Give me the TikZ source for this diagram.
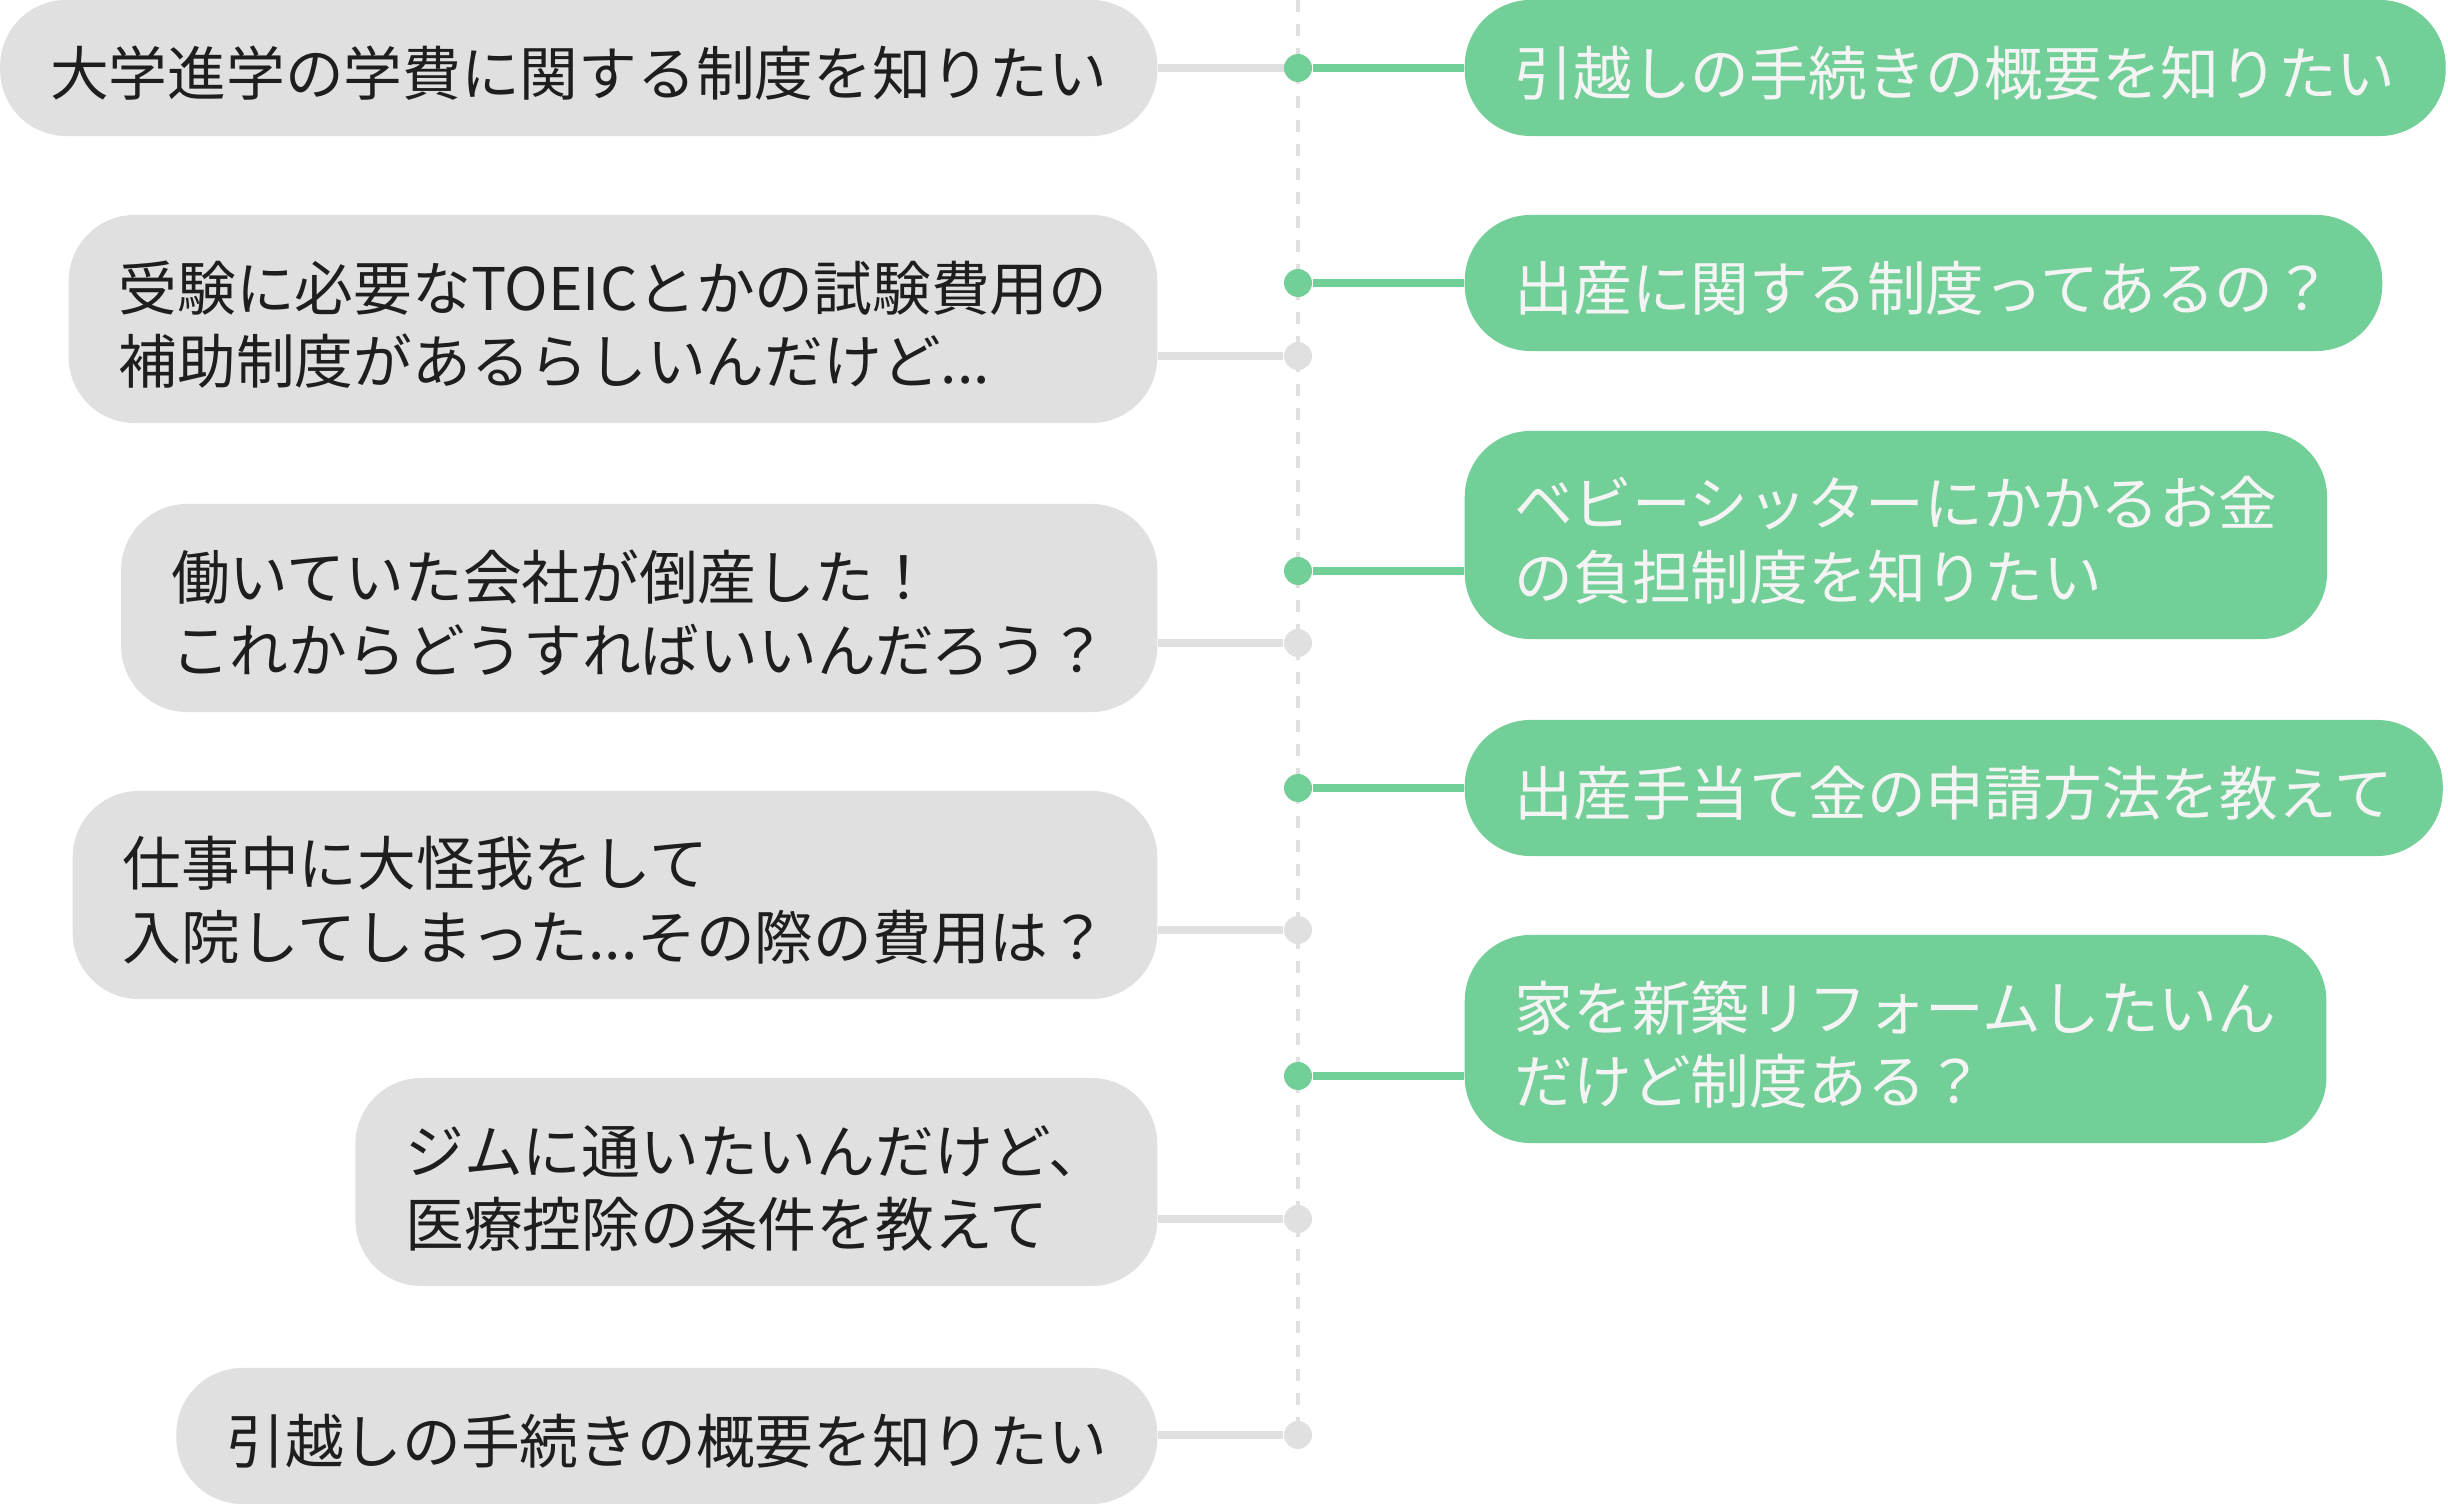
\documentclass[tikz,border=0pt]{standalone}
\usepackage{fontspec}
\setmainfont{Noto Sans CJK JP}
\definecolor{askgray}{HTML}{E0E0E0}
\definecolor{answergreen}{HTML}{72CF98}
\definecolor{asktext}{HTML}{1E1E1E}
\definecolor{answertext}{HTML}{F4F4F4}
\newcommand{\lift}{\rule{0pt}{0.6cm}}
\tikzset{
  bubble/.style={rounded corners=0.66cm,inner xsep=0.5cm,inner ysep=0pt,align=left,
    font=\fontsize{16.7}{20.8}\selectfont},
  short/.style={minimum height=1.36cm},
  tall/.style={minimum height=2.08cm},
  ask/.style={bubble,fill=askgray,text=asktext,anchor=east},
  answer/.style={bubble,fill=answergreen,text=answertext,anchor=west},
  dot/.style={circle,inner sep=0pt,minimum size=0.28cm}
}

\begin{document}
\begin{tikzpicture}[link/.style={line width=0.08cm},x=0.01cm,y=-0.01cm]
            \useasboundingbox (0,0) rectangle (2448,1504);
            \coordinate (top) at (1298,0);
            \coordinate (bottom) at (1298,1435);
            \draw[askgray,line width=0.033cm,dash pattern=on 0.12cm off 0.12cm] (top) -- (bottom);

            % questions
            \foreach \i/\cy/\sz/\qtext in {
                1/68/short/{大学進学の学費に関する制度を知りたい},
                2/319/tall/{受験に必要なTOEICとかの試験費用の\\補助制度があるらしいんだけど...},
                3/608/tall/{働いていた会社が倒産した！\\これからどうすればいいんだろう？},
                4/895/tall/{仕事中に大怪我をして\\入院してしまった...その際の費用は？},
                5/1182/tall/{ジムに通いたいんだけど、\\医療控除の条件を教えて},
                6/1436/short/{引越しの手続きの概要を知りたい}} {
                \node[ask,\sz] (q\i) at (1158,\cy) {\lift\qtext};
            }
            \foreach \i/\dy in {2/356,3/643,4/930,5/1219,6/1435} {
                \node[dot,fill=askgray] (qd\i) at (1298,\dy) {};
                \draw[link,askgray] (q\i.east |- qd\i) -- (qd\i);
            }

            % answers
            \foreach \i/\cy/\sz/\atext in {
                1/68/short/{引越しの手続きの概要を知りたい},
                2/283/short/{出産に関する制度ってあるの？},
                3/535/tall/{ベビーシッターにかかるお金\\の負担制度を知りたい},
                4/788/short/{出産手当て金の申請方法を教えて},
                5/1039/tall/{家を新築リフォームしたいん\\だけど制度ある？}} {
                \node[answer,\sz] (a\i) at (1464,\cy) {\lift\atext};
            }
            \draw[link,askgray] (q1.east) -- (1298,68);
            \foreach \i/\dy in {1/68,2/283,3/571,4/788,5/1076} {
                \node[dot,fill=answergreen] (ad\i) at (1298,\dy) {};
                \draw[link,answergreen] (ad\i) -- (a\i.west |- ad\i);
            }
        \end{tikzpicture}
\end{document}
